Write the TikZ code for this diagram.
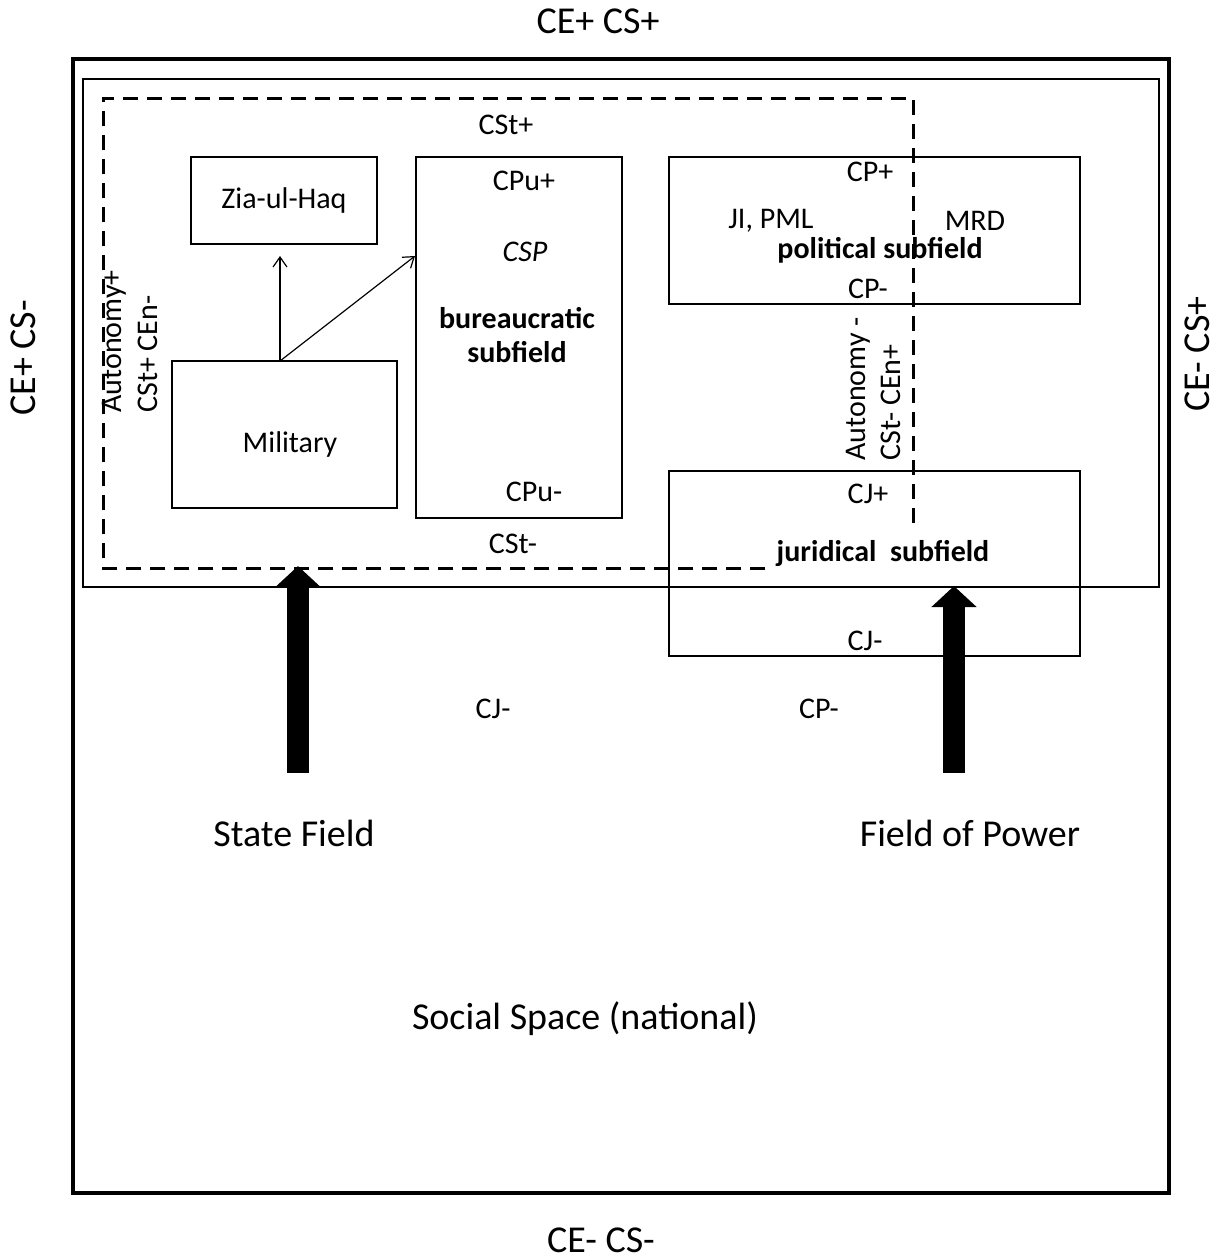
\documentclass[tikz,border=0pt]{standalone}
\usepackage{fontspec}
\setmainfont{Carlito}
\usetikzlibrary{arrows.meta}
\usetikzlibrary{positioning}

\begin{document}
\begin{tikzpicture}[x=0.5pt,y=0.5pt,
    field/.style={draw,rectangle,inner sep=0pt,outer sep=0pt},
    subbox/.style={field,line width=1.4pt},
    lbl/.style={inner sep=0pt,font=\fontsize{15}{17}\selectfont},
    bold/.style={lbl,font=\fontsize{15}{17}\selectfont\bfseries,align=center},
    big/.style={inner sep=0pt,font=\fontsize{19}{22}\selectfont},
    vert/.style={lbl,rotate=90,anchor=west},
    thin/.style={line width=0.6pt,-{Straight Barb[length=5pt,width=7pt]}},
    bigarrow/.style={line width=11pt,-{Triangle[width=22pt,length=10.5pt]}}]
            \useasboundingbox (0,0) rectangle (1228,-1260);

            % fields
            \node [field,line width=2.2pt,minimum width=548pt,minimum height=567pt] (social) at (621,-626) {};
            \node [field,line width=1.2pt,minimum width=538pt,minimum height=254pt] (power) at (621,-333) {};

            % subfields
            \node [subbox,minimum width=93pt,minimum height=43.5pt,lbl] (zia) at (284,-200.5) {Zia-ul-Haq};
            \node [subbox,minimum width=112.5pt,minimum height=73.5pt] (mil) at (284.5,-434.5) {};
            \node [subbox,minimum width=103pt,minimum height=180.5pt] (bur) at (519,-337.5) {};
            \node [subbox,minimum width=205.5pt,minimum height=73.5pt] (pol) at (874.5,-230.5) {};
            \node [subbox,minimum width=205.5pt,minimum height=92.5pt] (jur) at (874.5,-563.5) {};

            % state field (dashed)
            \draw [line width=1.5pt,dash pattern=on 7.5pt off 4.5pt]
                (765,-568) -- (103,-568) -- (103,-98) -- (913,-98) -- (913,-526);

            % labels
            \node [big] (top) at (598,-21) {CE+ CS+};
            \node [big] (bottom) at (601,-1240) {CE- CS-};
            \node [big,rotate=90] (left) at (23,-358) {CE+ CS-};
            \node [big,rotate=90] (right) at (1197,-354) {CE- CS+};

            \node [lbl] (cstp) at (506,-125) {CSt+};
            \node [lbl] (cstm) at (513,-544) {CSt-};
            \node [vert] (autp) at (114,-413) {Autonomy+};
            \node [vert] (cstcen) at (148,-413) {CSt+ CEn-};

            \node [lbl] (milt) at (290,-444) {Military};

            \node [lbl] (cpup) at (524,-181) {CPu+};
            \node [lbl,font=\fontsize{15}{17}\selectfont\itshape] (csp) at (525,-252) {CSP};
            \node [bold] (burt) at (517,-335) {bureaucratic\\subfield};
            \node [lbl] (cpum) at (534,-492) {CPu-};

            \node [lbl] (cpp) at (870,-172) {CP+};
            \node [lbl] (jipml) at (771,-221) {JI, PML};
            \node [lbl] (mrd) at (975,-221) {MRD};
            \node [bold] (polt) at (880,-250) {political subfield};
            \node [lbl] (cpm) at (868,-289) {CP-};

            \node [vert] (autm) at (858,-461) {Autonomy -};
            \node [vert] (cstcenb) at (891,-461) {CSt- CEn+};

            \node [lbl] (cjp) at (868,-494) {CJ+};
            \node [bold] (jurt) at (883,-553) {juridical\ \ subfield};
            \node [lbl] (cjm) at (865,-641) {CJ-};

            \node [lbl] (cjmb) at (493,-709) {CJ-};
            \node [lbl] (cpmb) at (819,-709) {CP-};

            \node [big] (state) at (294,-833) {State Field};
            \node [big] (fop) at (970,-833) {Field of Power};
            \node [big] (space) at (585,-1019) {Social Space (national)};

            % influence of the military
            \coordinate (milTop) at (280,-361);
            \coordinate (ziaEnd) at (280,-256);
            \coordinate (burEnd) at (415,-256);
            \draw [thin] (milTop) -- (ziaEnd);
            \draw [thin] (milTop) -- (burEnd);

            % big arrows
            \coordinate (stateBase) at (298,-773);
            \coordinate (stateTip) at (298,-566);
            \coordinate (fopBase) at (954,-773);
            \coordinate (fopTip) at (954,-586);
            \draw [bigarrow] (stateBase) -- (stateTip);
            \draw [bigarrow] (fopBase) -- (fopTip);
        \end{tikzpicture}
\end{document}
